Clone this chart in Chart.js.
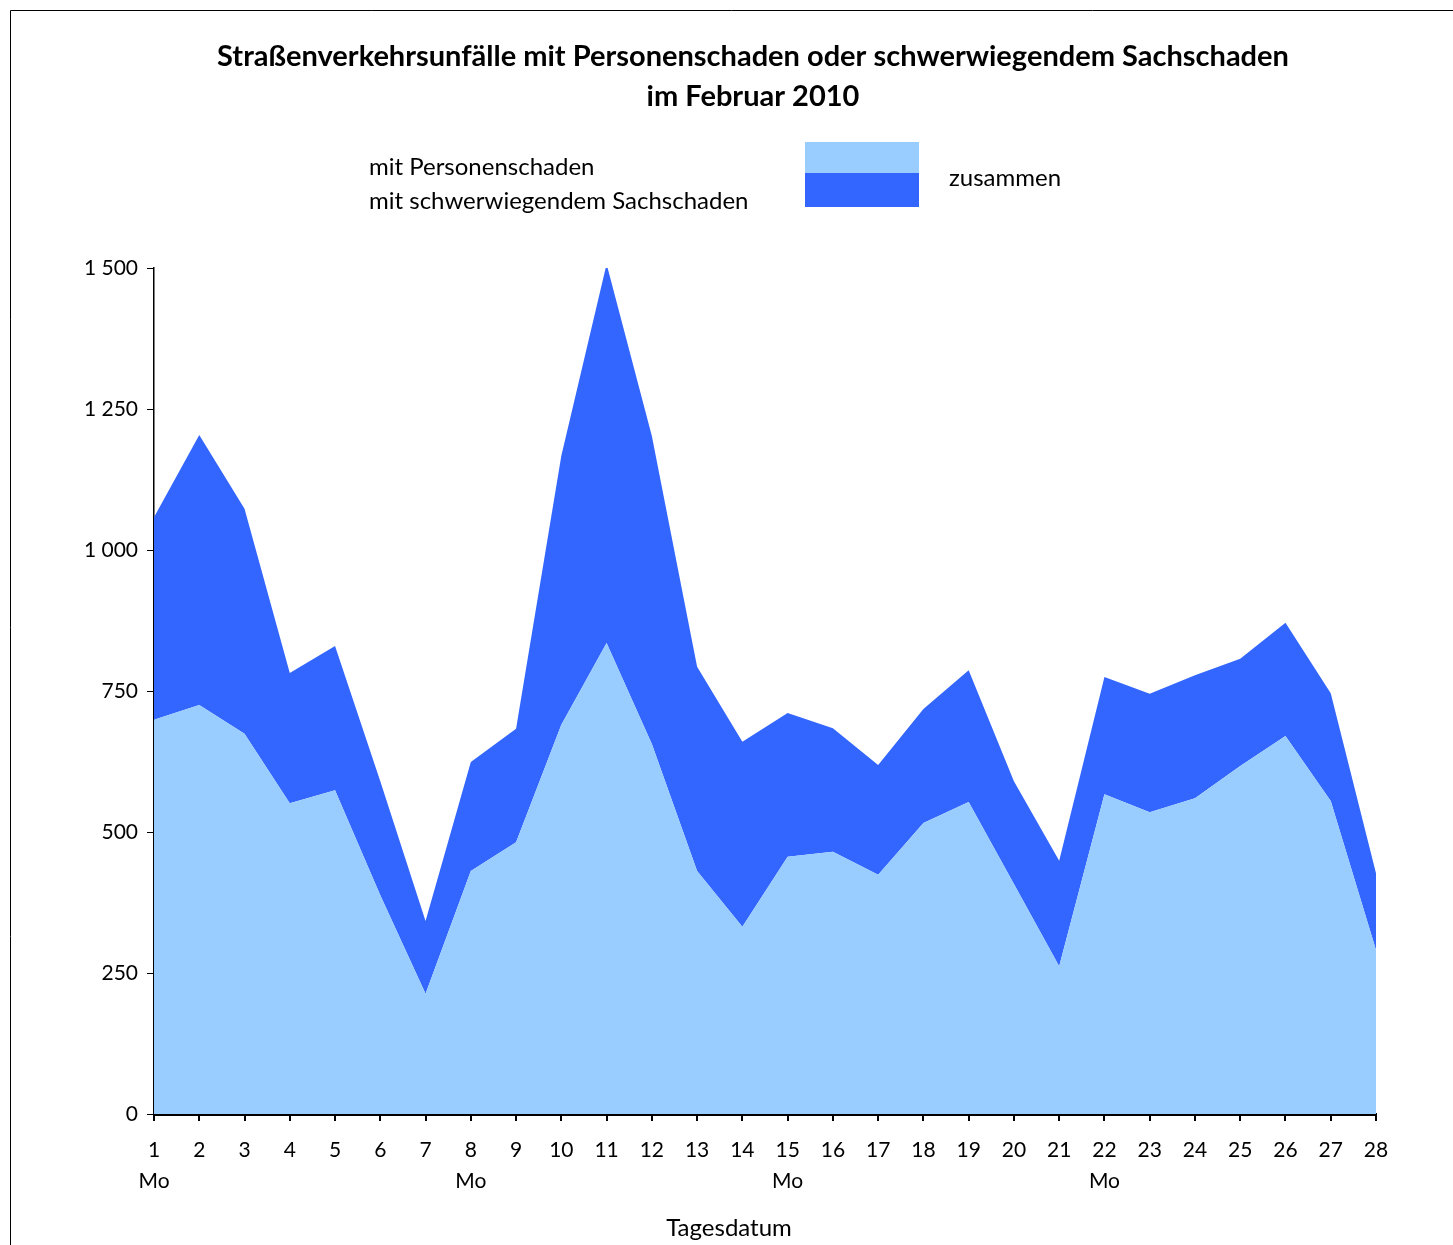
<!DOCTYPE html>
<html>
<head>
<meta charset="utf-8">
<script src="https://cdn.jsdelivr.net/npm/chart.js@4/dist/chart.umd.min.js"></script>
<style>
  body { margin: 0; background: #fff; }
</style>
</head>
<body>
<canvas id="unfallChart" width="1453" height="1245"></canvas>
<script>
// Tage im Februar 2010 und Wochentag-Markierung (Montage)
const tage = ['1','2','3','4','5','6','7','8','9','10','11','12','13','14',
              '15','16','17','18','19','20','21','22','23','24','25','26','27','28'];
const montage = ['1','8','15','22'];

// Unfälle mit Personenschaden
const personenschaden = [699, 725, 674, 551, 574, 388, 213, 431, 482, 690, 835, 656, 431, 332,
                         456, 465, 424, 516, 553, 408, 262, 567, 535, 560, 617, 670, 555, 291];
// Unfälle mit schwerwiegendem Sachschaden (oben aufgestapelt)
const sachschaden = [359, 479, 399, 231, 256, 202, 129, 193, 201, 477, 672, 546, 362, 328,
                     255, 219, 195, 202, 234, 182, 187, 208, 210, 218, 190, 201, 191, 136];

const yTicks = [0, 250, 500, 750, 1000, 1250, 1500];

const hell = '#99CCFF';
const dunkel = '#3366FF';
const schrift = 'Lato, "Open Sans", sans-serif';

// Tausender mit Leerzeichen: 1 500
function fmt(v) {
    if (v >= 1000) return Math.floor(v / 1000) + ' ' + String(v % 1000).padStart(3, '0');
    return String(v);
}

const labels = tage.map(t => montage.includes(t) ? [t, 'Mo'] : [t, '']);

// Titel, Legende, Achsentitel und Rahmen
const extras = {
    id: 'extras',
    afterDraw(chart) {
        const ctx = chart.ctx;
        ctx.save();
        ctx.strokeStyle = '#000';
        ctx.lineWidth = 1;
        ctx.beginPath();
        ctx.moveTo(10.5, 1245);
        ctx.lineTo(10.5, 10.5);
        ctx.lineTo(1453, 10.5);
        ctx.stroke();

        ctx.fillStyle = '#000';
        ctx.textAlign = 'center';
        ctx.textBaseline = 'middle';
        ctx.font = 'bold 29px ' + schrift;
        ctx.fillText('Straßenverkehrsunfälle mit Personenschaden oder schwerwiegendem Sachschaden', 753, 57);
        ctx.fillText('im Februar 2010', 753, 97);

        ctx.font = '24px ' + schrift;
        ctx.textAlign = 'left';
        ctx.fillText('mit Personenschaden', 369, 167);
        ctx.fillText('mit schwerwiegendem Sachschaden', 369, 201);
        ctx.fillText('zusammen', 949, 178);
        ctx.fillStyle = hell;
        ctx.fillRect(805, 142, 114, 31);
        ctx.fillStyle = dunkel;
        ctx.fillRect(805, 173, 114, 34);

        ctx.fillStyle = '#000';
        ctx.textAlign = 'center';
        ctx.font = '24px ' + schrift;
        ctx.fillText('Tagesdatum', 729, 1228);
        ctx.restore();
    }
};

const ctx = document.getElementById('unfallChart').getContext('2d');
const unfallChart = new Chart(ctx, {
    type: 'line',
    data: {
        labels: labels,
        datasets: [{
            label: 'mit Personenschaden',
            data: personenschaden,
            fill: 'origin',
            backgroundColor: hell,
            borderWidth: 0,
            pointRadius: 0,
            tension: 0
        }, {
            label: 'mit schwerwiegendem Sachschaden',
            data: sachschaden,
            fill: '-1',
            backgroundColor: dunkel,
            borderWidth: 0,
            pointRadius: 0,
            tension: 0
        }]
    },
    options: {
        responsive: false,
        animation: false,
        layout: { padding: { left: 10, right: 77, top: 268, bottom: 10 } },
        plugins: {
            legend: { display: false },
            title: { display: false },
            tooltip: { enabled: false }
        },
        scales: {
            x: {
                offset: false,
                grid: { drawOnChartArea: false, color: '#000', tickLength: 7, lineWidth: 2 },
                border: { color: '#000', width: 3 },
                ticks: {
                    color: '#000',
                    font: { family: schrift, size: 21, lineHeight: 1.5 },
                    padding: 13,
                    maxRotation: 0,
                    autoSkip: false
                },
                afterFit(scale) { scale.height = 121; }
            },
            y: {
                stacked: true,
                min: 0,
                max: 1500,
                afterBuildTicks(scale) { scale.ticks = yTicks.map(v => ({ value: v })); },
                grid: { drawOnChartArea: false, color: '#000', tickLength: 7, lineWidth: 1 },
                border: { color: '#000', width: 1.5 },
                ticks: {
                    color: '#000',
                    font: { family: schrift, size: 21 },
                    padding: 9,
                    callback: v => fmt(v)
                },
                afterFit(scale) { scale.width = 144; }
            }
        }
    },
    plugins: [extras]
});
</script>
</body>
</html>
